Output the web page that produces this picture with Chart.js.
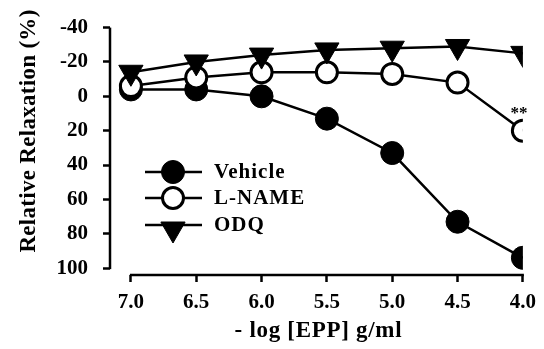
<!DOCTYPE html>
<html>
<head>
<meta charset="utf-8">
<script src="https://cdn.jsdelivr.net/npm/chart.js@4.4.1/dist/chart.umd.min.js"></script>
<style>
  html, body { margin: 0; padding: 0; background: #fff; }
  #wrap { width: 544px; height: 349px; }
</style>
</head>
<body>
<div id="wrap"><canvas id="relaxChart" width="544" height="349"></canvas></div>
<script>
// values
var xTicks = [7.0, 6.5, 6.0, 5.5, 5.0, 4.5, 4.0];
var yTicks = [-40, -20, 0, 20, 40, 60, 80, 100];
var vehicle = [-4, -4, 0, 13, 33, 73, 94];
var lname = [-6, -11, -14, -14, -13, -8, 20];
var odq = [-14, -20, -24, -27, -28, -29, -25];
var lnameMarks = ['', '', '', '', '', '', '**'];
var seriesNames = ['Vehicle', 'L-NAME', 'ODQ'];
var xTitle = '- log [EPP] g/ml';
var yTitle = 'Relative Relaxation (%)';

var SERIF = '"Liberation Serif", "Times New Roman", serif';

function toPoints(values) {
    return values.map(function(v, i) { return { x: xTicks[i], y: v }; });
}

function drawMarker(ctx, ds, x, y) {
    ctx.fillStyle = ds.pointBackgroundColor;
    ctx.strokeStyle = ds.pointBorderColor;
    ctx.lineWidth = ds.pointBorderWidth;
    Chart.helpers.drawPoint(ctx, {
        pointStyle: ds.pointStyle,
        rotation: ds.pointRotation || 0,
        radius: ds.pointRadius,
        borderWidth: ds.pointBorderWidth
    }, x, y);
}

// axis lines, titles, legend and the ** note
var decorPlugin = {
    id: 'decor',
    beforeDatasetsDraw: function(chart) {
        var ctx = chart.ctx;
        var xs = chart.scales.x, ys = chart.scales.y;
        var area = chart.chartArea;
        ctx.save();
        ctx.strokeStyle = '#000';
        ctx.lineWidth = 2.5;
        // y axis
        ctx.beginPath();
        ctx.moveTo(area.left, ys.getPixelForValue(yTicks[0]));
        ctx.lineTo(area.left, ys.getPixelForValue(yTicks[yTicks.length - 1]) + 1);
        ctx.stroke();
        // x axis (detached from y axis)
        ctx.beginPath();
        ctx.moveTo(xs.getPixelForValue(xTicks[0]) - 1, area.bottom);
        ctx.lineTo(xs.getPixelForValue(xTicks[xTicks.length - 1]) + 1, area.bottom);
        ctx.stroke();
        ctx.restore();
    },
    afterDraw: function(chart) {
        var ctx = chart.ctx;
        var area = chart.chartArea;
        ctx.save();
        ctx.fillStyle = '#000';

        // axis titles
        ctx.font = 'bold 23px ' + SERIF;
        ctx.textAlign = 'center';
        ctx.textBaseline = 'middle';
        ctx.letterSpacing = '0.7px';
        ctx.fillText(xTitle, (area.left + area.right) / 2 + 2, 331);
        ctx.letterSpacing = '0.3px';
        ctx.save();
        ctx.translate(29, 131);
        ctx.rotate(-Math.PI / 2);
        ctx.fillText(yTitle, 0, 0);
        ctx.restore();
        ctx.letterSpacing = '0px';

        // ** above last L-NAME point
        var meta = chart.getDatasetMeta(1);
        ctx.font = 'bold 17px ' + SERIF;
        meta.data.forEach(function(pt, i) {
            if (lnameMarks[i]) ctx.fillText(lnameMarks[i], pt.x - 4, pt.y - 17);
        });

        // legend
        var rowY = [172, 198, 225];
        chart.data.datasets.forEach(function(ds, i) {
            var y = rowY[i];
            ctx.strokeStyle = '#000';
            ctx.lineWidth = 2.5;
            ctx.beginPath();
            ctx.moveTo(145, y);
            ctx.lineTo(202, y);
            ctx.stroke();
            drawMarker(ctx, ds, 173, ds.pointStyle === 'triangle' ? y + 4 : y);
            ctx.fillStyle = '#000';
            ctx.font = 'bold 21px ' + SERIF;
            ctx.letterSpacing = '1px';
            ctx.textAlign = 'left';
            ctx.textBaseline = 'middle';
            ctx.fillText(ds.label, 214, y + 1);
            ctx.letterSpacing = '0px';
        });
        ctx.restore();
    }
};

var ctx = document.getElementById('relaxChart').getContext('2d');
var relaxChart = new Chart(ctx, {
    type: 'line',
    data: {
        datasets: [{
            label: seriesNames[0],
            data: toPoints(vehicle),
            borderColor: '#000',
            borderWidth: 2.5,
            pointStyle: 'circle',
            pointRadius: 11.5,
            pointBorderWidth: 1,
            pointBackgroundColor: '#000',
            pointBorderColor: '#000',
            order: 3
        }, {
            label: seriesNames[1],
            data: toPoints(lname),
            borderColor: '#000',
            borderWidth: 2.5,
            pointStyle: 'circle',
            pointRadius: 10.5,
            pointBorderWidth: 3,
            pointBackgroundColor: '#fff',
            pointBorderColor: '#000',
            order: 2
        }, {
            label: seriesNames[2],
            data: toPoints(odq),
            borderColor: '#000',
            borderWidth: 2.5,
            pointStyle: 'triangle',
            pointRotation: 180,
            pointRadius: 14,
            pointBorderWidth: 1,
            pointBackgroundColor: '#000',
            pointBorderColor: '#000',
            order: 1
        }]
    },
    options: {
        responsive: false,
        animation: false,
        layout: { padding: { top: 25, right: 17, left: 0, bottom: 0 } },
        plugins: {
            legend: { display: false },
            tooltip: { enabled: false }
        },
        elements: { line: { tension: 0 } },
        scales: {
            x: {
                type: 'linear',
                reverse: true,
                min: 4.0,
                max: 7.16,
                afterBuildTicks: function(scale) {
                    scale.ticks = xTicks.map(function(v) { return { value: v }; });
                },
                afterFit: function(scale) { scale.height = 74; },
                border: { display: false },
                grid: {
                    drawOnChartArea: false,
                    drawTicks: true,
                    tickLength: 7,
                    tickWidth: 2.5,
                    tickColor: '#000'
                },
                ticks: {
                    color: '#000',
                    padding: 8,
                    maxRotation: 0,
                    autoSkip: false,
                    font: { family: SERIF, size: 21, weight: 'bold' },
                    callback: function(v) { return Number(v).toFixed(1); }
                }
            },
            y: {
                type: 'linear',
                reverse: true,
                min: -40,
                max: 104,
                afterBuildTicks: function(scale) {
                    scale.ticks = yTicks.map(function(v) { return { value: v }; });
                },
                afterFit: function(scale) { scale.width = 110; },
                border: { display: false },
                grid: {
                    drawOnChartArea: false,
                    drawTicks: true,
                    tickLength: 7,
                    tickWidth: 2.5,
                    tickColor: '#000'
                },
                ticks: {
                    color: '#000',
                    padding: 15,
                    autoSkip: false,
                    font: { family: SERIF, size: 21, weight: 'bold' }
                }
            }
        }
    },
    plugins: [decorPlugin]
});
</script>
</body>
</html>
